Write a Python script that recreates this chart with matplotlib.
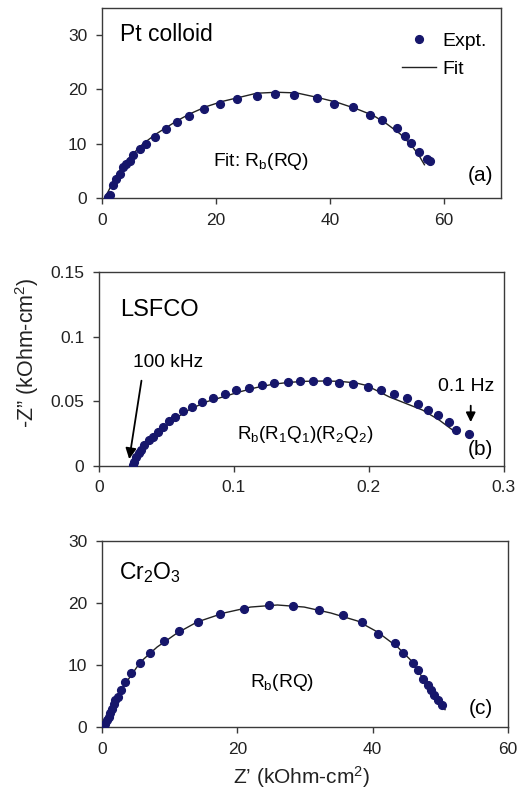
import matplotlib
matplotlib.use("Agg")
import matplotlib.pyplot as plt
from matplotlib.lines import Line2D

plt.rcParams['font.family'] = ['Liberation Sans', 'DejaVu Sans']
plt.rcParams['mathtext.fontset'] = 'custom'
plt.rcParams['mathtext.rm'] = 'Liberation Sans'
plt.rcParams['mathtext.it'] = 'Liberation Sans:italic'

# ---- Panel (a): Pt colloid ----
a_expt_x = [1.05, 1.35, 1.93, 2.52, 3.10, 3.69, 4.16, 4.86, 5.44, 6.62, 7.79, 9.25, 11.18, 13.17,
            15.28, 17.92, 20.67, 23.71, 27.22, 30.39, 33.67, 37.70, 40.75, 43.97, 47.01, 49.12,
            51.81, 53.22, 54.16, 55.56, 56.97, 57.55]
a_expt_y = [0.18, 0.49, 2.33, 3.55, 4.47, 5.69, 6.31, 6.80, 7.84, 8.94, 9.98, 11.21, 12.74, 13.96,
            15.13, 16.41, 17.27, 18.19, 18.86, 19.11, 18.92, 18.43, 17.33, 16.84, 15.37, 14.45,
            12.92, 11.33, 10.17, 8.39, 7.23, 6.80]
a_fit_x = [0.47, 1.05, 1.93, 3.10, 4.86, 7.20, 9.54, 13.06, 15.40, 18.33, 21.25, 24.18, 27.11,
           30.62, 34.13, 37.65, 41.16, 44.67, 47.60, 49.94, 52.28, 54.04, 55.50, 56.56]
a_fit_y = [0.0, 1.10, 2.94, 5.08, 7.53, 9.98, 11.82, 14.15, 15.49, 16.84, 17.82, 18.55, 19.29,
           19.47, 19.35, 18.55, 17.64, 16.41, 15.19, 13.66, 11.82, 9.98, 8.02, 6.12]
a_xticks = [0, 20, 40, 60]
a_yticks = [0, 10, 20, 30]

# ---- Panel (b): LSFCO ----
b_expt_x = [0.0252, 0.0264, 0.0277, 0.0296, 0.0314, 0.0338, 0.0370, 0.0400, 0.0437, 0.0474,
            0.0519, 0.0568, 0.0627, 0.0691, 0.0765, 0.0844, 0.0938, 0.1017, 0.1111, 0.1210,
            0.1301, 0.1400, 0.1491, 0.1590, 0.1689, 0.1783, 0.1881, 0.1993, 0.2091, 0.2190,
            0.2281, 0.2363, 0.2437, 0.2511, 0.2593, 0.2647, 0.2746]
b_expt_y = [0.0008, 0.0033, 0.0067, 0.0097, 0.0123, 0.0162, 0.0200, 0.0226, 0.0264, 0.0300,
            0.0346, 0.0379, 0.0421, 0.0456, 0.0495, 0.0521, 0.0559, 0.0585, 0.0605, 0.0623,
            0.0641, 0.0649, 0.0654, 0.0654, 0.0654, 0.0644, 0.0631, 0.0610, 0.0585, 0.0554,
            0.0521, 0.0477, 0.0431, 0.0392, 0.0341, 0.0277, 0.0244]
b_fit_x = [0.0252, 0.0277, 0.0326, 0.0425, 0.0548, 0.0672, 0.0795, 0.0919, 0.1042, 0.1165,
           0.1289, 0.1412, 0.1536, 0.1659, 0.1783, 0.1906, 0.1980, 0.2054, 0.2153, 0.2277,
           0.2400, 0.2523, 0.2622]
b_fit_y = [0.0, 0.0059, 0.0136, 0.0238, 0.0354, 0.0436, 0.0495, 0.0533, 0.0572, 0.0605,
           0.0631, 0.0646, 0.0654, 0.0656, 0.0654, 0.0641, 0.0623, 0.0585, 0.0533, 0.0482,
           0.0431, 0.0354, 0.0277]
b_xticks = [0, 0.1, 0.2, 0.3]
b_xticklabels = ['0', '0.1', '0.2', '0.3']
b_yticks = [0, 0.05, 0.1, 0.15]
b_yticklabels = ['0', '0.05', '0.1', '0.15']

# ---- Panel (c): Cr2O3 ----
c_expt_x = [0.25, 0.49, 0.74, 0.99, 1.23, 1.48, 1.73, 1.98, 2.32, 2.81, 3.46, 4.30, 5.68, 7.16,
            9.23, 11.36, 14.17, 17.43, 20.99, 24.69, 28.20, 32.15, 35.56, 38.37, 40.74, 43.31,
            44.49, 45.98, 46.77, 47.51, 48.15, 48.64, 49.14, 49.63, 50.22]
c_expt_y = [0.0, 0.43, 1.08, 1.61, 2.26, 2.96, 3.66, 4.30, 4.84, 6.02, 7.26, 8.71, 10.32, 11.99,
            13.82, 15.43, 16.88, 18.28, 19.09, 19.73, 19.46, 18.82, 18.01, 16.88, 15.05, 13.60,
            11.99, 10.38, 9.14, 7.80, 6.72, 5.91, 5.11, 4.30, 3.49]
c_fit_x = [0.15, 0.74, 1.73, 3.21, 5.68, 8.15, 11.11, 14.07, 18.02, 21.98, 25.93, 29.88, 33.83,
           37.78, 40.74, 43.70, 45.68, 47.65, 49.14, 50.72]
c_fit_y = [0.0, 1.34, 3.49, 6.61, 10.48, 12.90, 15.16, 16.94, 18.39, 19.35, 19.68, 19.35, 18.39,
           17.10, 15.32, 12.90, 10.75, 7.53, 5.11, 2.80]
c_xticks = [0, 20, 40, 60]
c_yticks = [0, 10, 20, 30]

MARKER = '#16166b'
SPINE = '#3a3a3a'
TICKFS = 12.5
MS = 5.6

fig = plt.figure(figsize=(5.23, 7.95), dpi=100)
ax_a = fig.add_axes([0.195, 0.751, 0.763, 0.239])
ax_b = fig.add_axes([0.189, 0.414, 0.774, 0.244])
ax_c = fig.add_axes([0.195, 0.0855, 0.776, 0.234])


def style(ax):
    for s in ax.spines.values():
        s.set_color(SPINE)
        s.set_linewidth(1.0)
    ax.tick_params(direction='out', length=4.5, width=1.0, color=SPINE,
                   labelsize=TICKFS, labelcolor='#222222', pad=6)


# Panel a
ax_a.plot(a_fit_x, a_fit_y, color='#222222', lw=1.0, zorder=2)
ax_a.plot(a_expt_x, a_expt_y, 'o', color=MARKER, ms=MS, zorder=3)
ax_a.set_xlim(0, 70)
ax_a.set_ylim(0, 35)
ax_a.set_xticks(a_xticks)
ax_a.set_yticks(a_yticks)
style(ax_a)
ax_a.text(0.045, 0.858, 'Pt colloid', transform=ax_a.transAxes, fontsize=16.5, va='center', ha='left')
ax_a.text(0.278, 0.168, r'Fit: $\mathregular{R_b}$(RQ)', transform=ax_a.transAxes, fontsize=13.8,
          va='baseline', ha='left')
ax_a.text(0.98, 0.116, '(a)', transform=ax_a.transAxes, fontsize=15, va='center', ha='right')
handles = [Line2D([], [], ls='none', marker='o', color=MARKER, ms=MS),
           Line2D([], [], color='#222222', lw=1.0)]
ax_a.legend(handles, ['Expt.', 'Fit'], loc='upper left', bbox_to_anchor=(0.752, 0.874),
            frameon=False, fontsize=14, handlelength=1.75, handletextpad=0.31,
            labelspacing=0.55, borderpad=0, borderaxespad=0)

# Panel b
ax_b.plot(b_fit_x, b_fit_y, color='#222222', lw=1.0, zorder=2)
ax_b.plot(b_expt_x, b_expt_y, 'o', color=MARKER, ms=MS, zorder=3)
ax_b.set_xlim(0, 0.3)
ax_b.set_ylim(0, 0.15)
ax_b.set_xticks(b_xticks)
ax_b.set_xticklabels(b_xticklabels)
ax_b.set_yticks(b_yticks)
ax_b.set_yticklabels(b_yticklabels)
style(ax_b)
ax_b.text(0.052, 0.804, 'LSFCO', transform=ax_b.transAxes, fontsize=17, va='center', ha='left')
ax_b.text(0.084, 0.531, '100 kHz', transform=ax_b.transAxes, fontsize=13.8, va='center', ha='left')
ax_b.text(0.837, 0.407, '0.1 Hz', transform=ax_b.transAxes, fontsize=14, va='center', ha='left')
ax_b.text(0.341, 0.16,
          r'$\mathregular{R_b(R_1Q_1)(R_2Q_2)}$', transform=ax_b.transAxes, fontsize=13.6,
          va='center', ha='left')
ax_b.text(0.973, 0.082, '(b)', transform=ax_b.transAxes, fontsize=15, va='center', ha='right')
ax_b.annotate('', xy=(0.0222, 0.0031), xytext=(0.0319, 0.068),
              arrowprops=dict(arrowstyle='-|>', color='black', lw=1.3, mutation_scale=16))
ax_b.annotate('', xy=(0.2756, 0.0317), xytext=(0.2756, 0.0487),
              arrowprops=dict(arrowstyle='-|>', color='black', lw=1.3, mutation_scale=14))

# Panel c
ax_c.plot(c_fit_x, c_fit_y, color='#222222', lw=1.0, zorder=2)
ax_c.plot(c_expt_x, c_expt_y, 'o', color=MARKER, ms=MS, zorder=3)
ax_c.set_xlim(0, 60)
ax_c.set_ylim(0, 30)
ax_c.set_xticks(c_xticks)
ax_c.set_yticks(c_yticks)
style(ax_c)
ax_c.text(0.042, 0.828, r'$\mathregular{Cr_2O_3}$', transform=ax_c.transAxes, fontsize=16.5,
          va='center', ha='left')
ax_c.text(0.365, 0.242, r'$\mathregular{R_b}$(RQ)', transform=ax_c.transAxes, fontsize=13.8,
          va='center', ha='left')
ax_c.text(0.963, 0.102, '(c)', transform=ax_c.transAxes, fontsize=15, va='center', ha='right')

fig.text(27 / 523, 0.557, r'-Z” (kOhm-cm$\mathregular{^2}$)', rotation=90, fontsize=15.5,
         va='center', ha='center', color='#222222')
fig.text(302 / 523, 0.0226, r'Z’ (kOhm-cm$\mathregular{^2}$)', fontsize=15,
         va='center', ha='center', color='#222222')

fig.savefig('out.png', dpi=100)
